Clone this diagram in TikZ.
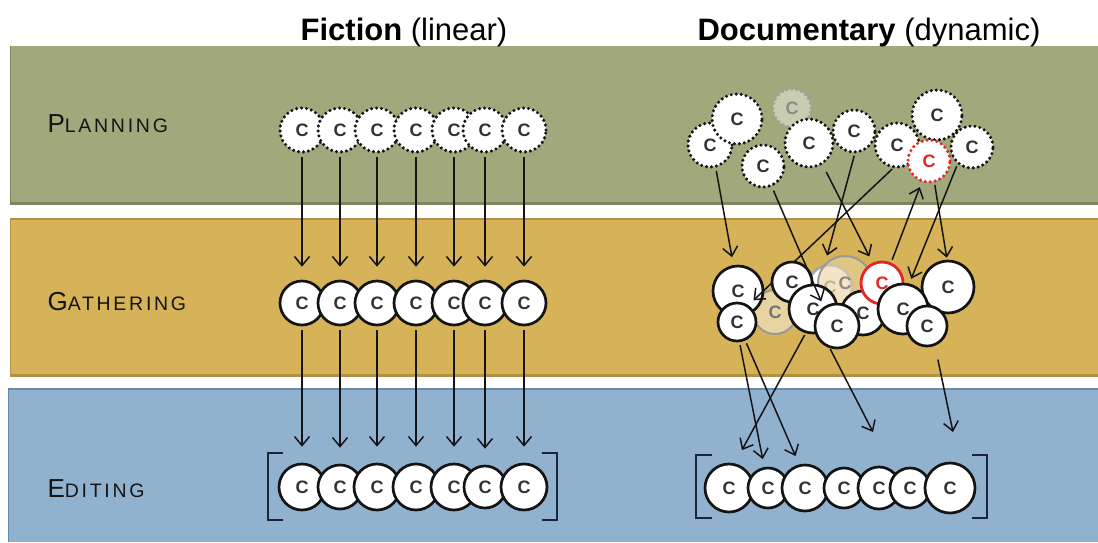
\documentclass[tikz,border=0pt]{standalone}
\usepackage{fontspec}
\setmainfont{Liberation Sans}
\newfontfamily\labfont[LetterSpace=14]{Liberation Sans}
\usetikzlibrary{arrows.meta}

\definecolor{planfill}{RGB}{160,168,124}
\definecolor{planedge}{RGB}{126,134,96}
\definecolor{gathfill}{RGB}{214,178,88}
\definecolor{gathedge}{RGB}{178,146,66}
\definecolor{editfill}{RGB}{145,178,207}
\definecolor{editedge}{RGB}{106,138,168}
\definecolor{fadegreen}{RGB}{200,204,176}
\definecolor{fadetan}{RGB}{232,212,160}
\definecolor{ink}{RGB}{20,20,20}
\definecolor{cgray}{RGB}{50,50,50}
\definecolor{redring}{RGB}{228,38,38}
\definecolor{navy}{RGB}{25,38,58}

\tikzset{
  cbase/.style={circle, inner sep=0pt, fill=white, text=cgray,
    font=\fontsize{18}{18}\selectfont\bfseries},
  rr/.style={minimum size=#1*2pt},
  dotc/.style={cbase, draw=ink, line width=3.4pt,
    dash pattern=on 0pt off 5pt, line cap=round},
  solc/.style={cbase, draw=ink, line width=2.7pt},
  fadec/.style={cbase, draw=gray!80, line width=2pt, fill=fadetan, text=gray!90!black},
  arr/.style={draw=ink, line width=1.5pt, -{Straight Barb[length=9pt,width=15pt]}},
  brk/.style={draw=navy, line width=2.8pt},
  stagelabel/.style={anchor=base west, text=ink},
}

\newcommand{\stagename}[2]{{\labfont\fontsize{26}{26}\selectfont #1\fontsize{19.5}{19.5}\selectfont #2}}

\begin{document}
\begin{tikzpicture}[x=1pt, y=-1pt]
\useasboundingbox (0,0) rectangle (1098,542);
\fill[white] (0,0) rectangle (1098,542);

% stage bands
\fill[planfill] (10,46) rectangle (1098,205);
\draw[planedge, line width=1.2pt] (10.6,46) -- (10.6,205);
\fill[planedge] (10,202) rectangle (1098,205);
\fill[gathfill] (10,218) rectangle (1098,377);
\fill[gathedge] (10,218) rectangle (1098,220);
\fill[gathedge] (10,374) rectangle (1098,377);
\draw[gathedge, line width=1.2pt] (10.6,218) -- (10.6,377);
\fill[editfill] (8,388) rectangle (1098,542);
\fill[editedge] (8,388) rectangle (1098,390);
\draw[editedge, line width=1.2pt] (8.6,388) -- (8.6,542);

% headings
\node[anchor=base] (tfic) at (404,40)
  {\fontsize{31}{31}\selectfont\textbf{Fiction} (linear)};
\node[anchor=base] (tdoc) at (869,40)
  {\fontsize{31}{31}\selectfont\textbf{Documentary} (dynamic)};

% stage labels
\node[stagelabel] (lplan) at (44,132) {\stagename{P}{LANNING}};
\node[stagelabel] (lgath) at (44,310) {\stagename{G}{ATHERING}};
\node[stagelabel] (ledit) at (44,497) {\stagename{E}{DITING}};

% ---- fiction: one clip per column, straight down ----
\foreach \i/\x in {1/302,2/340,3/377,4/416,5/454,6/485,7/524}{
  \node[dotc, rr=22] (fp\i) at (\x,130) {C};
}
\foreach \i/\x in {1/302,2/340,3/377,4/416,5/454,6/485,7/524}{
  \node[solc, rr=22] (fg\i) at (\x,303) {C};
}
\foreach \i/\x/\r in {1/302/23,2/340/22,3/377/23,4/416/23,5/454/23,6/485/21,7/524/23}{
  \node[solc, rr=\r] (fe\i) at (\x,487) {C};
}
\foreach \i in {1,...,7}{
  \draw[arr, shorten <=3pt, shorten >=13pt] (fp\i) -- (fg\i);
  \draw[arr, shorten <=4pt, shorten >=16pt] (fg\i) -- (fe\i);
}
\draw[brk] (283,453) -- (268,453) -- (268,520) -- (283,520);
\draw[brk] (542,453) -- (557,453) -- (557,520) -- (542,520);

% ---- documentary: planned clips ----
\node[dotc, rr=22] (dp1) at (710,145) {C};
\node[dotc, rr=25] (dp2) at (737,119) {C};
\node[dotc, rr=19, draw=gray!75, fill=fadegreen, text=gray!90] (dp3) at (792,108) {C};
\node[dotc, rr=21] (dp4) at (763,166) {C};
\node[dotc, rr=24] (dp5) at (809,143) {C};
\node[dotc, rr=21] (dp6) at (854,131) {C};
\node[dotc, rr=22] (dp7) at (897,145) {C};
\node[dotc, rr=25] (dp8) at (937,115) {C};
\node[dotc, rr=21] (dp10) at (972,147) {C};
\node[dotc, rr=21, draw=redring, text=redring] (dp9) at (929,161) {C};

% ---- documentary: gathered material ----
\node[solc, rr=22, draw=gray!70, text=gray] (dgE) at (830,287) {C};
\node[fadec, rr=27, fill opacity=0.6, text opacity=0.8] (dgE2) at (845,283) {C};
\node[fadec, rr=22] (dgC) at (775,312) {C};
\node[solc, rr=25] (dgA) at (738,291) {C};
\node[solc, rr=19] (dgB) at (737,322) {C};
\draw[arr, shorten <=1pt, shorten >=7pt] (dp7.-100) -- (dgB.56);
\node[solc, rr=20] (dgD) at (792,282) {C};
\node[solc, rr=22] (dgH) at (863,313) {C};
\node[solc, rr=24] (dgF) at (813,309) {C};
\node[solc, rr=22] (dgG) at (837,326) {C};
\node[solc, rr=21, draw=redring, text=redring, line width=2.8pt] (dgI) at (882,283) {C};
\node[solc, rr=26] (dgK) at (948,287) {C};
\node[solc, rr=25] (dgJ) at (903,309) {C};
\node[solc, rr=20] (dgL) at (927,326) {C};

% ---- documentary: edited sequence ----
\node[solc, rr=24] (de1) at (729,488) {C};
\node[solc, rr=20] (de2) at (768,488) {C};
\node[solc, rr=23] (de3) at (805,488) {C};
\node[solc, rr=20] (de4) at (844,488) {C};
\node[solc, rr=21] (de5) at (879,488) {C};
\node[solc, rr=20] (de6) at (910,488) {C};
\node[solc, rr=25] (de7) at (950,488) {C};
\draw[brk] (712,455) -- (696,455) -- (696,518) -- (712,518);
\draw[brk] (972,455) -- (987,455) -- (987,518) -- (972,518);

% planning -> gathering
\draw[arr, shorten <=3pt, shorten >=8pt] (dp1.-76) -- (dgA.100);
\draw[arr, shorten <=4pt, shorten >=6pt] (dp4.-67) -- (dgG.125);
\draw[arr, shorten <=2pt, shorten >=9pt] (dp6.-88) -- (dgE.103);
\draw[arr, shorten <=8pt, shorten >=7pt] (dp5.-58) -- (dgI.115);
\draw[arr, shorten <=3pt, shorten >=5pt] (dgI.66) -- (dp9.-109);
\draw[arr, shorten <=2pt, shorten >=2pt] (dp9.-76) -- (dgK.92);
\draw[arr, shorten <=2pt, shorten >=5pt] (dp10.-130) -- (dgJ.76);

% gathering -> editing
\coordinate (tipd) at (873,432);
\coordinate (tipe) at (953,432);
\draw[arr, shorten <=3pt, shorten >=8pt] (dgB.-83) -- (de2.100);
\draw[arr, shorten <=3pt, shorten >=9pt] (dgB.-66) -- (de3.104);
\draw[arr, shorten <=2pt, shorten >=15pt] (dgF.-107) -- (de1.77);
\draw[arr, shorten <=1pt] (dgG.-108) -- (tipd);
\draw[arr, shorten <=14pt] (dgL.-68) -- (tipe);
\end{tikzpicture}
\end{document}
